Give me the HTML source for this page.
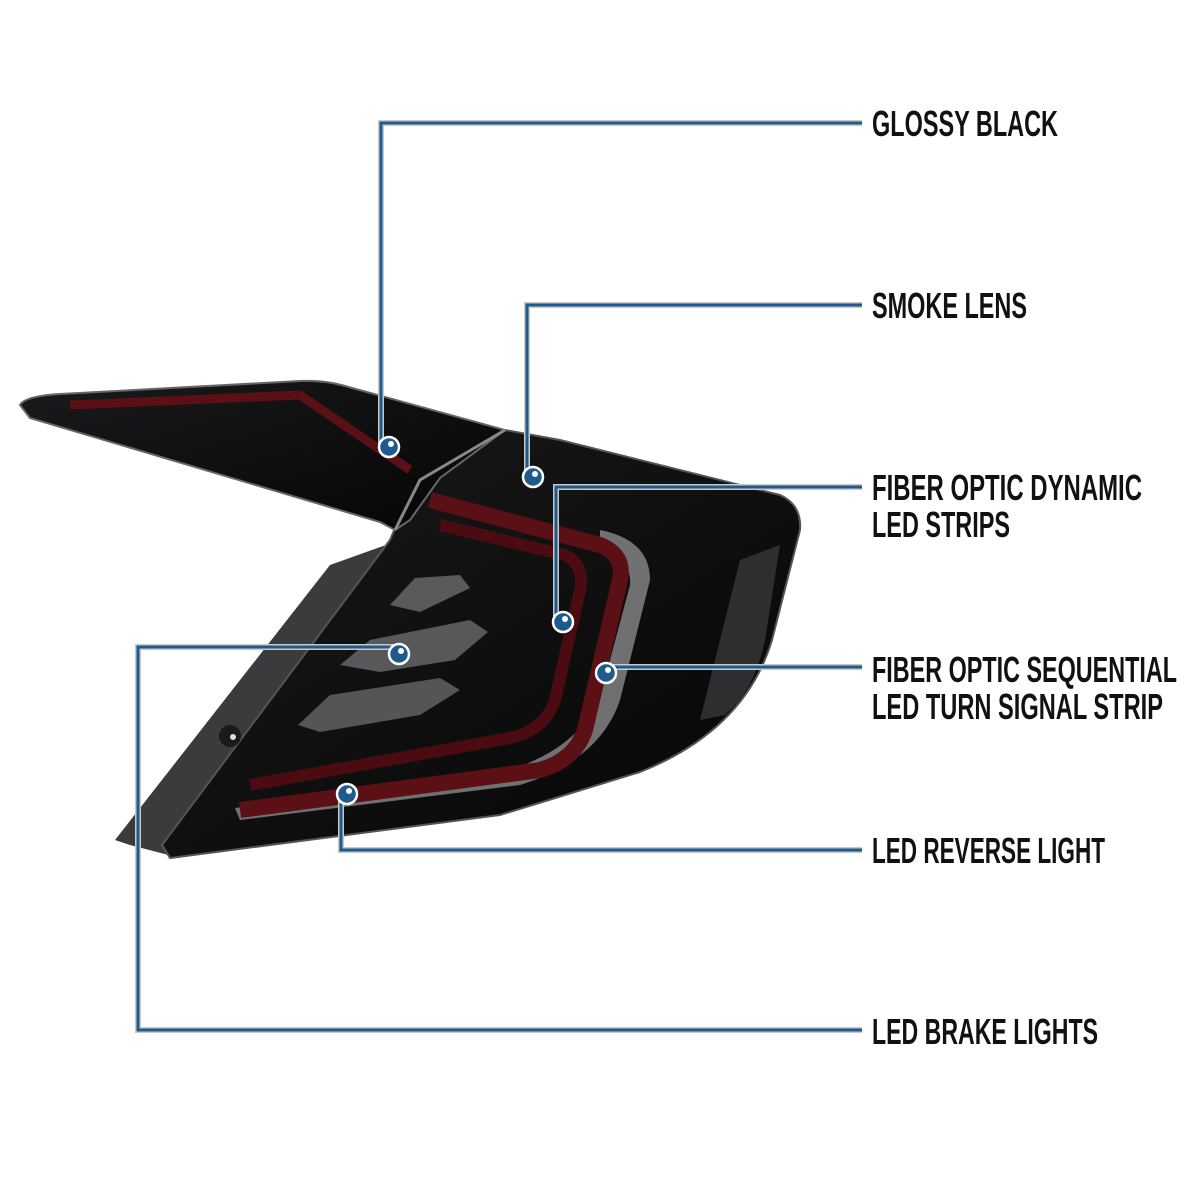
<!DOCTYPE html>
<html><head><meta charset="utf-8"><style>
html,body{margin:0;padding:0;background:#fff}
svg{display:block}
text{font-family:"Liberation Sans Narrow","Liberation Sans",sans-serif;font-weight:bold;font-size:36px;fill:#111}
</style></head><body>
<svg width="1200" height="1200" viewBox="0 0 1200 1200" xmlns="http://www.w3.org/2000/svg">
<defs>
<linearGradient id="bd" x1="0" y1="0" x2="1" y2="1">
<stop offset="0" stop-color="#1a1a1c"/><stop offset="1" stop-color="#050505"/></linearGradient>
<linearGradient id="rd" x1="0" y1="0" x2="1" y2="0">
<stop offset="0" stop-color="#3a0a0c"/><stop offset="0.5" stop-color="#6a1418"/><stop offset="1" stop-color="#3a0a0c"/></linearGradient>
</defs>
<!-- gray back housing -->
<polygon points="115,840 330,565 400,540 180,858 130,845" fill="#3b3b3d"/>
<!-- main body -->
<path d="M420,470 L505,430 L560,440 L780,495 Q802,505 800,530 L772,640 Q745,730 640,772 L500,815 L170,858 L162,845 L390,540 Z" fill="url(#bd)" stroke="#555" stroke-width="2"/>
<!-- right side mesh strip -->
<path d="M740,560 L780,545 L765,640 Q755,690 725,715 L700,720 Z" fill="#2e2e30"/>
<!-- clear turn strip -->
<path d="M600,530 Q650,540 650,580 L620,700 Q600,760 520,785 L240,820 L235,808 L510,770 Q585,745 602,690 L630,585 Q632,558 600,548 Z" fill="#8a8a8c" opacity="0.8"/>
<!-- red C strip -->
<path d="M430,500 L600,545 Q625,555 620,580 L585,730 Q575,760 540,770 L240,810" fill="none" stroke="#5a1014" stroke-width="16"/>
<path d="M440,525 L565,555 Q585,565 580,590 L555,700 Q545,730 510,738 L250,785" fill="none" stroke="#4a0c10" stroke-width="12"/>
<!-- chevrons -->
<polygon points="390,605 415,578 460,575 470,588 420,612" fill="#5a5a5c"/>
<polygon points="340,665 370,640 470,620 488,632 455,660 380,672" fill="#58585a"/>
<polygon points="298,725 330,695 440,678 460,690 420,715 320,732" fill="#555557"/>
<!-- left upper lamp -->
<path d="M20,405 Q25,396 60,394 L300,381 Q325,380 345,386 L505,430 L440,478 L410,520 L395,530 L380,522 L30,418 Z" fill="url(#bd)" stroke="#666" stroke-width="2"/>
<path d="M70,405 L300,395 L410,470" fill="none" stroke="#5a1014" stroke-width="9"/>
<path d="M505,430 L420,480 L395,530" fill="none" stroke="#888" stroke-width="3"/>
<!-- hole -->
<circle cx="230" cy="736" r="11" fill="#1a1a1a"/><circle cx="233" cy="737" r="3" fill="#ddd"/>
<!-- callout lines -->
<g fill="none" stroke-linejoin="miter">
<g stroke="#c8c8c8" stroke-width="6">
<polyline points="381,447 381,123 862,123"/>
<polyline points="527,477 527,305 862,305"/>
<polyline points="556,620 556,487 862,487"/>
<polyline points="605,667 862,667"/>
<polyline points="341,793 341,850 862,850"/>
<polyline points="398,647 138,647 138,1030 862,1030"/>
</g>
<g stroke="#1e5b8c" stroke-width="3">
<polyline points="381,447 381,123 862,123"/>
<polyline points="527,477 527,305 862,305"/>
<polyline points="556,620 556,487 862,487"/>
<polyline points="605,667 862,667"/>
<polyline points="341,793 341,850 862,850"/>
<polyline points="398,647 138,647 138,1030 862,1030"/>
</g>
</g>
<g stroke="#fff" stroke-width="2.5" fill="#1e5b8c">
<circle cx="389" cy="447" r="10"/><circle cx="533" cy="477" r="10"/>
<circle cx="563" cy="622" r="10"/><circle cx="606" cy="673" r="10"/>
<circle cx="399" cy="654" r="10"/><circle cx="347" cy="794" r="10"/>
</g>
<g fill="#fff">
<circle cx="391" cy="444" r="3"/><circle cx="535" cy="474" r="3"/>
<circle cx="565" cy="619" r="3"/><circle cx="608" cy="670" r="3"/>
<circle cx="401" cy="651" r="3"/><circle cx="349" cy="791" r="3"/>
</g>
<text x="872" y="136" textLength="186" lengthAdjust="spacingAndGlyphs">GLOSSY BLACK</text>
<text x="872" y="318" textLength="155" lengthAdjust="spacingAndGlyphs">SMOKE LENS</text>
<text x="872" y="500" textLength="270" lengthAdjust="spacingAndGlyphs">FIBER OPTIC DYNAMIC</text>
<text x="872" y="537" textLength="138" lengthAdjust="spacingAndGlyphs">LED STRIPS</text>
<text x="872" y="682" textLength="305" lengthAdjust="spacingAndGlyphs">FIBER OPTIC SEQUENTIAL</text>
<text x="872" y="719" textLength="291" lengthAdjust="spacingAndGlyphs">LED TURN SIGNAL STRIP</text>
<text x="872" y="863" textLength="233" lengthAdjust="spacingAndGlyphs">LED REVERSE LIGHT</text>
<text x="872" y="1044" textLength="226" lengthAdjust="spacingAndGlyphs">LED BRAKE LIGHTS</text>
</svg>
</body></html>
